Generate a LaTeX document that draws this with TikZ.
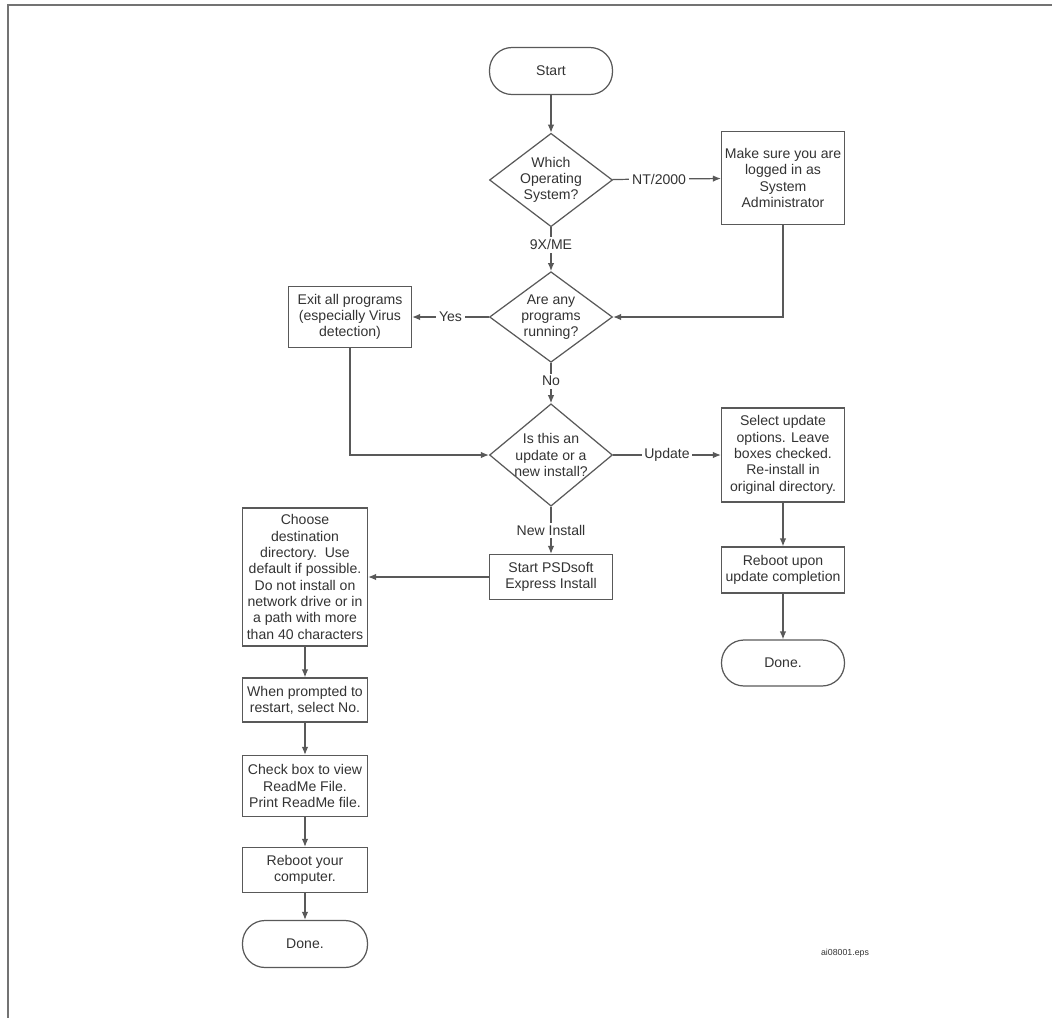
\documentclass[tikz,border=0pt]{standalone}
\usepackage{fontspec}
\setmainfont{Liberation Sans}
\usetikzlibrary{shapes.geometric,arrows.meta}

\begin{document}
\begin{tikzpicture}[
x=0.02cm, y=-0.02cm,
every node/.style={font=\fontsize{8}{9.3}\selectfont,text=black!80,align=center,draw=black!65,line width=0.7pt},
process/.style={rectangle,minimum width=2.46cm,inner sep=1pt},
terminal/.style={rectangle,rounded corners=0.45cm,minimum width=2.46cm,minimum height=0.94cm},
decision/.style={diamond,minimum width=2.46cm,minimum height=1.8cm,inner sep=-2pt},
lbl/.style={draw=none,fill=white,inner sep=1.5pt},
arr/.style={draw=black!65,line width=0.7pt,-{Latex[length=1.6mm,width=1.3mm]}}
]
\useasboundingbox (0,0) rectangle (1052,1018);
% page frame
\draw[black!55,line width=1pt] (1052,5) -- (8,5) -- (8,1018);

\node[terminal] (start) at (551,71) {Start};
\node[decision] (os) at (551,180) {Which\\Operating\\System?};
\node[process,minimum height=1.86cm] (admin) at (783,178) {Make sure you are\\logged in as\\System\\Administrator};
\node[decision] (running) at (551,317) {Are any\\programs\\running?};
\node[process,minimum height=1.22cm] (exit) at (350,317) {Exit all programs\\(especially Virus\\detection)};
\node[decision] (kind) at (551,455) {Is this an\\update or a\\new install?};
\node[process,minimum height=1.88cm] (select) at (783,455) {Select update\\options. Leave\\boxes checked.\\Re-install in\\original directory.};
\node[process,minimum height=0.92cm] (rebootupd) at (783,570) {Reboot upon\\update completion};
\node[terminal,minimum height=0.92cm] (doneR) at (783,663) {Done.};
\node[process,minimum height=0.9cm] (psd) at (551,577) {Start PSDsoft\\Express Install};
\node[process,minimum width=2.5cm,minimum height=2.76cm] (choose) at (305,577) {Choose\\destination\\directory.\ \ Use\\default if possible.\\Do not install on\\network drive or in\\a path with more\\than 40 characters};
\node[process,minimum width=2.5cm,minimum height=0.88cm] (prompt) at (305,700) {When prompted to\\restart, select No.};
\node[process,minimum width=2.5cm,minimum height=1.22cm] (check) at (305,786) {Check box to view\\ReadMe File.\\Print ReadMe file.};
\node[process,minimum width=2.5cm,minimum height=0.9cm] (reboot) at (305,870) {Reboot your\\computer.};
\node[terminal,minimum width=2.5cm] (doneL) at (305,944) {Done.};
\node[draw=none,font=\fontsize{5}{6}\selectfont] (fig) at (845,953) {ai08001.eps};

% connectors
\draw[arr] (start) -- (os);
\draw[arr] (os) -- node[lbl,pos=0.43]{NT/2000} (admin);
\draw[arr] (os) -- node[lbl,pos=0.4]{9X/ME} (running);
\draw[arr] (admin) |- (running);
\draw[arr] (running) -- node[lbl]{Yes} (exit);
\draw[arr] (running) -- node[lbl,pos=0.45]{No} (kind);
\draw[arr] (exit) |- (kind);
\draw[arr] (kind) -- node[lbl]{Update} (select);
\draw[arr] (select) -- (rebootupd);
\draw[arr] (rebootupd) -- (doneR);
\draw[arr] (kind) -- node[lbl]{New Install} (psd);
\draw[arr] (psd) -- (choose);
\draw[arr] (choose) -- (prompt);
\draw[arr] (prompt) -- (check);
\draw[arr] (check) -- (reboot);
\draw[arr] (reboot) -- (doneL);
\end{tikzpicture}
\end{document}
